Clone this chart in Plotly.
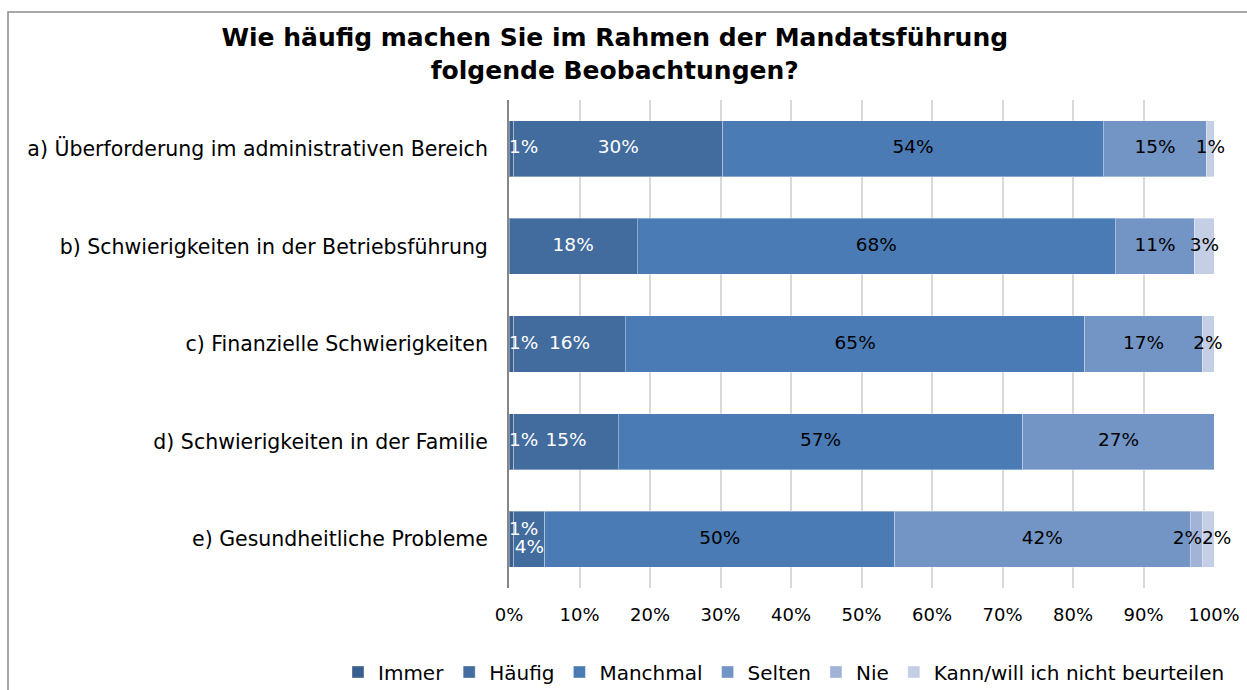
import plotly.graph_objects as go
import numpy as np

categories = [
    "a) Überforderung im administrativen Bereich",
    "b) Schwierigkeiten in der Betriebsführung",
    "c) Finanzielle Schwierigkeiten",
    "d) Schwierigkeiten in der Familie",
    "e) Gesundheitliche Probleme",
]
series_names = ["Immer", "Häufig", "Manchmal", "Selten", "Nie", "Kann/will ich nicht beurteilen"]

immer = [0.7, 0.0, 0.7, 0.7, 0.7]
haeufig = [29.6, 18.2, 15.8, 14.8, 4.4]
manchmal = [54.0, 67.8, 65.2, 57.4, 49.6]
selten = [14.7, 11.3, 16.6, 27.1, 41.9]
nie = [0.0, 0.0, 0.0, 0.0, 1.7]
kann = [1.0, 2.7, 1.7, 0.0, 1.7]

x_ticks = [0, 10, 20, 30, 40, 50, 60, 70, 80, 90, 100]
x_ticklabels = ["0%", "10%", "20%", "30%", "40%", "50%", "60%", "70%", "80%", "90%", "100%"]

values = [immer, haeufig, manchmal, selten, nie, kann]
colors = ["#3b5f8e", "#426c9e", "#4a7bb5", "#7395c6", "#a1b3d6", "#c4cee4"]
text_colors = ["white", "white", "black", "black", "black", "black"]

FONT = "DejaVu Sans"

fig = go.Figure()
for name, vals, col in zip(series_names, values, colors):
    fig.add_trace(go.Bar(
        y=categories, x=vals, name=name, orientation="h",
        marker=dict(color=col, line=dict(color="rgba(255,255,255,0.35)", width=1)),
        hoverinfo="skip",
    ))

# label positions derived from the data (cumulative sums)
arr = np.array(values)
cum_end = np.cumsum(arr, axis=0)
cum_start = cum_end - arr
overrides = {
    (4, 0): ("start", "top right"),
    (4, 1): ("mid", "bottom center"),
    (4, 4): ("end", "middle left"),
    (4, 5): ("start", "middle right"),
}
for s, name in enumerate(series_names):
    xs, ys, ts, ps = [], [], [], []
    for c, cat in enumerate(categories):
        v = arr[s, c]
        if v <= 0:
            continue
        anchor, pos = "mid", "middle center"
        if s == 0:
            anchor, pos = "start", "middle right"
        if (c, s) in overrides:
            anchor, pos = overrides[(c, s)]
        if anchor == "start":
            xv = cum_start[s, c]
        elif anchor == "end":
            xv = cum_end[s, c]
        else:
            xv = cum_start[s, c] + v / 2
        xs.append(xv)
        ys.append(cat)
        ts.append(f"{round(v)}%")
        ps.append(pos)
    fig.add_trace(go.Scatter(
        x=xs, y=ys, text=ts, mode="text", textposition=ps,
        textfont=dict(family=FONT, size=18.5, color=text_colors[s]),
        showlegend=False, hoverinfo="skip", cliponaxis=False,
    ))

fig.update_layout(
    width=1247, height=690,
    barmode="stack", bargap=0.426,
    plot_bgcolor="white", paper_bgcolor="white",
    margin=dict(l=509, r=33, t=100, b=102, autoexpand=False),
    font=dict(family=FONT, size=18, color="black"),
    title=dict(
        text="<b>Wie häufig machen Sie im Rahmen der Mandatsführung<br>folgende Beobachtungen?</b>",
        x=0.493, xanchor="center", xref="container",
        y=1 - 46 / 690, yanchor="middle", yref="container",
        font=dict(family=FONT, size=25, color="black"),
    ),
    xaxis=dict(
        range=[0, 100], tickvals=x_ticks, ticktext=x_ticklabels,
        showgrid=True, gridcolor="#d9d9d9", gridwidth=2,
        zeroline=False, showline=False, ticks="",
        ticklabelstandoff=14,
        tickfont=dict(family=FONT, size=18), fixedrange=True,
    ),
    yaxis=dict(
        categoryorder="array", categoryarray=categories, autorange="reversed",
        showline=True, linecolor="#868686", linewidth=2, ticks="",
        ticklabelstandoff=15, tickfont=dict(family=FONT, size=20.5),
        showgrid=False,
    ),
    legend=dict(
        orientation="h", xref="paper", yref="paper",
        x=(338 - 509) / 705, xanchor="left", y=(588 - 672) / 488, yanchor="middle",
        font=dict(family=FONT, size=20), traceorder="normal",
        itemwidth=30, tracegroupgap=0,
    ),
    shapes=[dict(
        type="rect", xref="paper", yref="paper",
        x0=-501 / 705, x1=1.08, y0=-0.3, y1=(588 - 12) / 488,
        line=dict(color="#8c8c8c", width=1.5), fillcolor="rgba(0,0,0,0)", layer="below",
    )],
)

fig.write_html(
    "out.html",
    config={"displayModeBar": False},
    post_script="document.body.style.margin='0';document.body.style.overflow='hidden';",
)
